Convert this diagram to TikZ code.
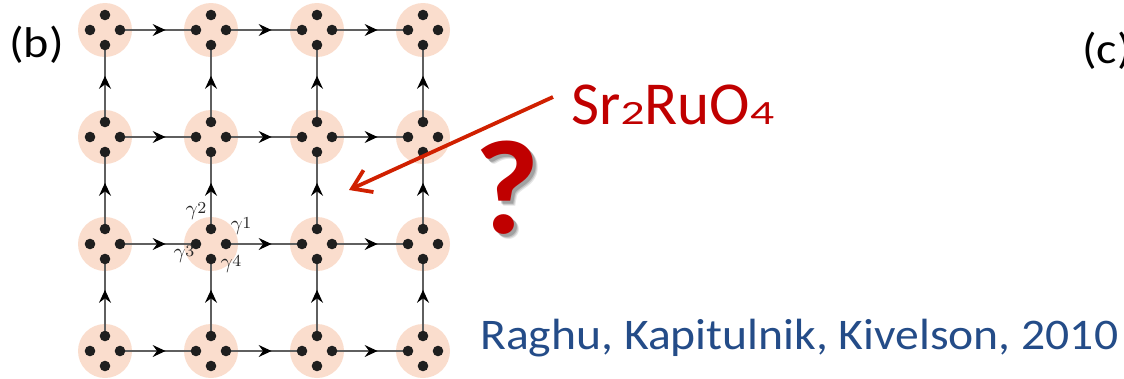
\documentclass[tikz,border=0pt]{standalone}
\usepackage[no-math]{fontspec}
\setmainfont{Carlito}
\usetikzlibrary{arrows.meta,decorations.markings}
\definecolor{peach}{RGB}{250,221,205}
\definecolor{linegray}{RGB}{95,95,95}
\definecolor{srred}{RGB}{192,0,0}
\definecolor{arrred}{RGB}{208,32,0}
\definecolor{refblue}{RGB}{36,76,136}
\tikzset{
  site/.style={circle,fill=peach,minimum size=54pt,inner sep=0pt},
  orb/.style={circle,fill=black!88,minimum size=10.6pt,inner sep=0pt},
  hop/.style={draw=linegray,line width=1.3pt,postaction={decorate},
    decoration={markings,mark=at position 0.6 with {\arrow[black]{Stealth[length=13pt,width=12pt,inset=4.5pt]}}}},
  glabel/.style={inner sep=0pt,text=black!85},
  panel/.style={font=\fontsize{43}{46}\selectfont,inner sep=0pt,anchor=base west},
  pointer/.style={draw=arrred,line width=3.8pt,-{Straight Barb[length=18pt,width=24pt,line width=3.8pt]}}
}
\newcommand{\hsc}[2]{\scalebox{#1}[1]{#2}}
\newcommand{\gam}[1]{\scalebox{2.1}{$\gamma$\kern-0.2pt\raisebox{1.2pt}{\fontsize{8.5}{9}\selectfont$\mathrm{#1}$}}}
\begin{document}
\begin{tikzpicture}[x=1pt,y=-1pt]
\useasboundingbox (0,0) rectangle (1124,378);
% sites
\foreach \i/\x in {1/105,2/211,3/317,4/423}{
  \foreach \j/\y in {1/30,2/137,3/244,4/351}{
    \node[site] (s\i\j) at (\x,\y) {};
    \coordinate (s\i\j r) at (\x+15,\y);
    \coordinate (s\i\j l) at (\x-15,\y);
    \coordinate (s\i\j t) at (\x,\y-15);
    \coordinate (s\i\j b) at (\x,\y+15);
  }
}
% horizontal hops
\foreach \i/\ni in {1/2,2/3,3/4}{
  \foreach \j in {1,2,3,4}{
    \draw[hop] (s\i\j r) -- (s\ni\j l);
  }
}
% vertical hops (upwards)
\foreach \i in {1,2,3,4}{
  \foreach \j/\nj in {1/2,2/3,3/4}{
    \draw[hop] (s\i\nj t) -- (s\i\j b);
  }
}
% orbitals
\foreach \i in {1,2,3,4}{
  \foreach \j in {1,2,3,4}{
    \foreach \d in {r,l,t,b}{
      \node[orb] (o\i\j\d) at (s\i\j\d) {};
    }
  }
}
% gamma labels
\node[glabel] (g2) at (196,211) {\gam{2}};
\node[glabel] (g1) at (241,226) {\gam{1}};
\node[glabel] (g3) at (184,254) {\gam{3}};
\node[glabel] (g4) at (231,264) {\gam{4}};
% panel labels
\node[panel] (pb) at (9,57) {\hsc{1.12}{(b)}};
\node[panel] (pc) at (1082,63) {\hsc{1.12}{(c)}};
% compound label
\node[inner sep=0pt,anchor=base west,text=srred,font=\fontsize{61}{66}\selectfont] (sr) at (571,124)
  {Sr\hsc{1.4}{\fontsize{34}{36}\selectfont 2}RuO\hsc{1.4}{\fontsize{34}{36}\selectfont 4}};
% pointer arrow
\coordinate (aS) at (553,97);
\coordinate (aE) at (349,190);
\draw[pointer] (aS) -- (aE);
% question mark with soft shadow
\foreach \o/\a in {5/0.10,4/0.14,3/0.18}{
  \node[inner sep=0pt,anchor=base west,text=black,opacity=\a,font=\fontsize{134}{134}\selectfont\bfseries] at (474+\o,233+\o) {\hsc{1.05}{?}};
}
\node[inner sep=0pt,anchor=base west,text=srred,font=\fontsize{134}{134}\selectfont\bfseries] (q) at (474,233) {\hsc{1.05}{?}};
% reference
\node[inner sep=0pt,anchor=base west,text=refblue,font=\fontsize{43.7}{46}\selectfont] (ref) at (480,349)
  {\hsc{1.09}{Raghu, Kapitulnik, Kivelson, 2010}};
\end{tikzpicture}
\end{document}
